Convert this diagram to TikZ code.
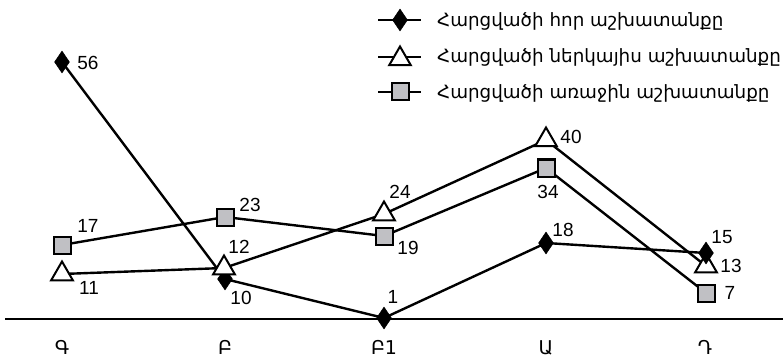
\documentclass[tikz,border=0pt]{standalone}
\usepackage{fontspec}
\setmainfont{Liberation Sans}
\newfontfamily\armfont{DejaVu Sans}
\usetikzlibrary{shapes.geometric}
\definecolor{markgray}{RGB}{192,192,196}
\begin{document}
\begin{tikzpicture}[x=1pt,y=-1pt,
  ser/.style={line width=2.4pt, black, line join=miter},
  axisline/.style={line width=1.3pt, black},
  dmark/.style={diamond, fill=black, draw=black, line width=0.5pt, inner sep=0pt, minimum width=15pt, minimum height=22pt},
  tmark/.style={regular polygon, regular polygon sides=3, draw=black, fill=white, line width=2pt, inner sep=0pt, minimum size=25pt},
  smark/.style={rectangle, draw=black, fill=markgray, line width=2pt, inner sep=0pt, minimum size=17pt},
  val/.style={font=\fontsize{19}{19}\selectfont, inner sep=0pt},
  cat/.style={font=\armfont\fontsize{19}{19}\selectfont, inner sep=0pt, anchor=base},
  leg/.style={font=\armfont\fontsize{18.3}{18.3}\selectfont, anchor=west, inner sep=0pt}]
\useasboundingbox (0,0) rectangle (783,358);

% data points
\coordinate (d1) at (62,62);
\coordinate (d2) at (225,279);
\coordinate (d3) at (384,318);
\coordinate (d4) at (546,243);
\coordinate (d5) at (706,253);
\coordinate (t1) at (62,274);
\coordinate (t2) at (224,268);
\coordinate (t3) at (384,214);
\coordinate (t4) at (546,140);
\coordinate (t5) at (706,266);
\coordinate (s1) at (62,245);
\coordinate (s2) at (225,217);
\coordinate (s3) at (384,236);
\coordinate (s4) at (546,168);
\coordinate (s5) at (706,293);

% axis
\coordinate (axl) at (5,319);
\coordinate (axr) at (783,319);
\draw[axisline] (axl) -- (axr);

% series lines
\draw[ser] (s1) -- (s2) -- (s3) -- (s4) -- (s5);
\draw[ser] (d1) -- (d2) -- (d3) -- (d4) -- (d5);
\draw[ser] (t1) -- (t2) -- (t3) -- (t4) -- (t5);

% markers
\foreach \p in {s1,s2,s3,s4,s5} \node[smark] (m\p) at (\p) {};
\foreach \p in {d1,d2,d3,d4} \node[dmark] (m\p) at (\p) {};
\foreach \p in {t1,t2,t3,t4,t5} \node[tmark] (m\p) at (\p) {};
\node[dmark] (md5) at (d5) {};

% value labels
\node[val] (l56) at (88,63) {56};
\node[val] (l17) at (88,226) {17};
\node[val] (l11) at (89,288) {11};
\node[val] (l23) at (250,205) {23};
\node[val] (l12) at (239,247) {12};
\node[val] (l10) at (241,298) {10};
\node[val] (l24) at (400,192) {24};
\node[val] (l19) at (408,248) {19};
\node[val] (l1) at (393,297) {1};
\node[val] (l40) at (571,137) {40};
\node[val] (l34) at (548,192) {34};
\node[val] (l18) at (563,230) {18};
\node[val] (l15) at (722,237) {15};
\node[val] (l13) at (731,266) {13};
\node[val] (l7) at (730,293) {7};

% category labels
\node[cat] (c1) at (62,354) {Գ};
\node[cat] (c2) at (225,354) {Բ};
\node[cat] (c3) at (384,354) {Բ1};
\node[cat] (c4) at (546,354) {Ա};
\node[cat] (c5) at (705,354) {Դ};

% legend
\coordinate (la1) at (378,20); \coordinate (lb1) at (421,20);
\coordinate (la2) at (378,57); \coordinate (lb2) at (421,57);
\coordinate (la3) at (378,92); \coordinate (lb3) at (421,92);
\draw[ser] (la1) -- (lb1);
\draw[ser] (la2) -- (lb2);
\draw[ser] (la3) -- (lb3);
\node[dmark] (lm1) at (400,20) {};
\node[tmark] (lm2) at (400,59) {};
\node[smark] (lm3) at (400,92) {};
\node[leg] (lt1) at (437,21) {Հարցվածի հոր աշխատանքը};
\node[leg] (lt2) at (437,57) {Հարցվածի ներկայիս աշխատանքը};
\node[leg] (lt3) at (437,93) {Հարցվածի առաջին աշխատանքը};
\end{tikzpicture}
\end{document}
